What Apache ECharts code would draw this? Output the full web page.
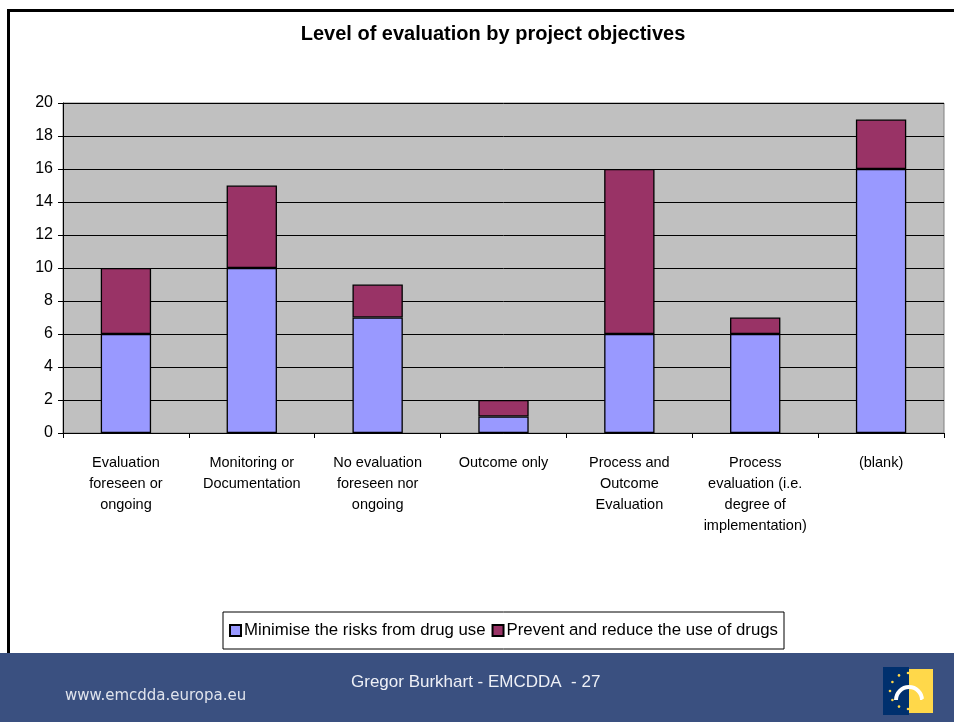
<!DOCTYPE html>
<html>
<head>
<meta charset="utf-8">
<script src="https://cdn.jsdelivr.net/npm/echarts@6/dist/echarts.min.js"></script>
<style>
html, body { margin: 0; padding: 0; background: #fff; }
#main { width: 954px; height: 722px; }
</style>
</head>
<body>
<div id="main"></div>
<script>
// categories and values
var categories = [
    'Evaluation\nforeseen or\nongoing',
    'Monitoring or\nDocumentation',
    'No evaluation\nforeseen nor\nongoing',
    'Outcome only',
    'Process and\nOutcome\nEvaluation',
    'Process\nevaluation (i.e.\ndegree of\nimplementation)',
    '(blank)'
];
var minimiseRisks = [6, 10, 7, 1, 6, 6, 16];
var preventReduce = [4, 5, 2, 1, 10, 1, 3];

var myChart = echarts.init(document.getElementById('main'));

var font = '"Liberation Sans", Arial, sans-serif';

// logo stars round the arch
var stars = [];
for (var i = 0; i < 12; i++) {
    var a = i / 12 * Math.PI * 2;
    stars.push({
        type: 'circle',
        shape: { cx: 908 + Math.cos(a) * 18, cy: 691 + Math.sin(a) * 18, r: 1.3 },
        style: { fill: '#ffd84a' },
        z: 12
    });
}

myChart.setOption({
    backgroundColor: '#fff',
    textStyle: { fontFamily: font },
    title: {
        text: 'Level of evaluation by project objectives',
        left: 488,
        textAlign: 'center',
        top: 19,
        textStyle: { fontSize: 20, fontWeight: 'bold', color: '#000', fontFamily: font }
    },
    legend: {
        data: ['Minimise the risks from drug use', 'Prevent and reduce the use of drugs'],
        left: 223,
        top: 612,
        padding: [10, 6, 10, 6],
        itemGap: 6,
        itemWidth: 11,
        itemHeight: 11,
        icon: 'rect',
        borderColor: '#000',
        borderWidth: 1,
        textStyle: { fontSize: 16.8, color: '#000', fontFamily: font, padding: [0, 0, 0, -2] }
    },
    grid: {
        left: 63,
        right: 10,
        top: 103,
        bottom: 289,
        show: true,
        backgroundColor: '#c0c0c0',
        borderColor: '#808080',
        borderWidth: 1
    },
    xAxis: {
        type: 'category',
        data: categories,
        axisLine: { lineStyle: { color: '#000', width: 1 } },
        axisTick: { show: true, length: 5, lineStyle: { color: '#000' } },
        axisLabel: {
            interval: 0,
            margin: 19,
            fontSize: 14.5,
            lineHeight: 21,
            color: '#000',
            fontFamily: font
        }
    },
    yAxis: {
        type: 'value',
        min: 0,
        max: 20,
        interval: 2,
        axisLine: { show: true, lineStyle: { color: '#000', width: 1 } },
        axisTick: { show: true, length: 5, lineStyle: { color: '#000' } },
        axisLabel: { fontSize: 16, color: '#000', margin: 10, fontFamily: font },
        splitLine: { lineStyle: { color: '#000', width: 1 } }
    },
    series: [{
        name: 'Minimise the risks from drug use',
        type: 'bar',
        stack: 'total',
        barWidth: '40%',
        data: minimiseRisks,
        itemStyle: { color: '#9999ff', borderColor: '#000', borderWidth: 1.3 }
    }, {
        name: 'Prevent and reduce the use of drugs',
        type: 'bar',
        stack: 'total',
        data: preventReduce,
        itemStyle: { color: '#993366', borderColor: '#000', borderWidth: 1.3 }
    }],
    graphic: [
        // slide frame
        { type: 'rect', shape: { x: 7, y: 9, width: 947, height: 3 }, style: { fill: '#000' }, z: 10 },
        { type: 'rect', shape: { x: 7, y: 9, width: 3, height: 644 }, style: { fill: '#000' }, z: 10 },
        // footer band
        { type: 'rect', shape: { x: 0, y: 653, width: 954, height: 69 }, style: { fill: '#3a5080' }, z: 10 },
        {
            type: 'text', left: 65, top: 689, z: 11,
            style: { text: 'www.emcdda.europa.eu', fill: '#dfe3ec', font: '15px "DejaVu Sans", Verdana, sans-serif' }
        },
        {
            type: 'text', left: 351, top: 674, z: 11,
            style: { text: 'Gregor Burkhart - EMCDDA  - 27', fill: '#eef0f6', font: '17px ' + font }
        },
        // logo
        { type: 'rect', shape: { x: 883, y: 667, width: 26, height: 48 }, style: { fill: '#00306e' }, z: 11 },
        { type: 'rect', shape: { x: 909, y: 669, width: 24, height: 44 }, style: { fill: '#ffd84a' }, z: 11 },
        {
            type: 'arc', z: 12,
            shape: { cx: 909, cy: 700, r: 13, startAngle: Math.PI, endAngle: Math.PI * 2 },
            style: { stroke: '#fff', lineWidth: 4, fill: null }
        }
    ].concat(stars)
});
</script>
</body>
</html>
